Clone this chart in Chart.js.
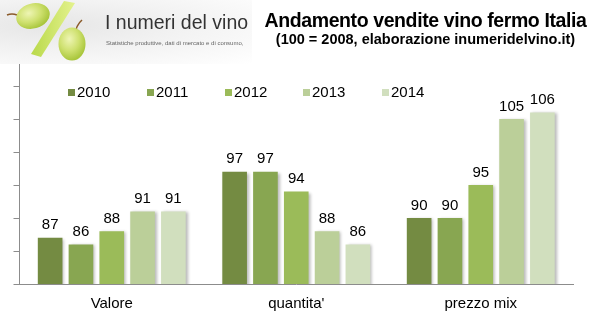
<!DOCTYPE html>
<html>
<head>
<meta charset="utf-8">
<script src="https://cdn.jsdelivr.net/npm/chart.js@4"></script>
<style>
  html, body { margin: 0; padding: 0; background: #fff; }
  #wrap { position: relative; width: 601px; height: 329px; overflow: hidden; font-family: "Liberation Sans", Arial, sans-serif; }
  #myChart { position: absolute; left: 0; top: 0; }
  #logo { position: absolute; left: 0; top: 0; width: 252px; height: 64px; overflow: hidden;
          background: radial-gradient(ellipse at 20% 40%, #e6e6e6 0%, #f2f2f2 45%, #ffffff 100%); }
  #logo svg { position: absolute; left: 0; top: 0; }
  #logoName { position: absolute; left: 105px; top: 11px; font-family: "Liberation Sans", Arial, sans-serif; font-size: 19.5px; color: #333; white-space: nowrap; }
  #logoSub { position: absolute; left: 106px; top: 40px; font-size: 6px; color: #666; white-space: nowrap; }
  #title { position: absolute; left: 250px; width: 351px; top: 9px; text-align: center; font-weight: bold; font-size: 19.5px; color: #000; letter-spacing: -0.4px; }
  #subtitle { position: absolute; left: 250px; width: 351px; top: 31px; text-align: center; font-weight: bold; font-size: 14.5px; color: #000; }
  #legend { position: absolute; top: 84px; left: 0; height: 16px; font-size: 15px; color: #000; }
  .item { position: absolute; top: 0; white-space: nowrap; line-height: 16px; }
  .sw { display: inline-block; width: 7px; height: 7px; margin-right: 2px; vertical-align: 1px; }
</style>
</head>
<body>
<div id="wrap">
  <canvas id="myChart" width="601" height="329"></canvas>

  <div id="logo">
    <svg width="105" height="64" viewBox="0 0 105 64">
      <defs>
        <radialGradient id="grape" cx="40%" cy="35%" r="65%">
          <stop offset="0" stop-color="#eef5b4"/>
          <stop offset="0.55" stop-color="#cfe170"/>
          <stop offset="1" stop-color="#a9c63c"/>
        </radialGradient>
        <linearGradient id="stick" x1="0" y1="0" x2="1" y2="0">
          <stop offset="0" stop-color="#b9d94a"/>
          <stop offset="1" stop-color="#e4f28e"/>
        </linearGradient>
      </defs>
      <path d="M7 15 Q12 13 17 15" stroke="#8a5a2a" stroke-width="1.6" fill="none"/>
      <ellipse cx="33" cy="16" rx="17" ry="12.5" transform="rotate(-15 33 16)" fill="url(#grape)"/>
      <polygon points="64,1 75,3 41,57 31,54" fill="url(#stick)"/>
      <path d="M75 35 Q76 25 82 20" stroke="#8a5a2a" stroke-width="1.6" fill="none"/>
      <ellipse cx="72" cy="44" rx="13.5" ry="16.5" fill="url(#grape)"/>
    </svg>
    <div id="logoName">I numeri del vino</div>
    <div id="logoSub">Statistiche produttive, dati di mercato e di consumo,</div>
  </div>

  <div id="title">Andamento vendite vino fermo Italia</div>
  <div id="subtitle">(100 = 2008, elaborazione inumeridelvino.it)</div>

  <div id="legend"></div>
</div>

<script>
// categories, series and tick values
var categories = ["Valore", "quantita'", "prezzo mix"];
var years = ["2010", "2011", "2012", "2013", "2014"];
var v2010 = [87, 97, 90];
var v2011 = [86, 97, 90];
var v2012 = [88, 94, 95];
var v2013 = [91, 88, 105];
var v2014 = [91, 86, 106];
var yMin = 80;
var yMax = 115;
var yStep = 5;

var colors = ["#748b42", "#88a651", "#9bbb59", "#bbcf99", "#d1dfbe"];
var series = [v2010, v2011, v2012, v2013, v2014];

// legend drawn as html, sitting inside the plot
var legendBox = document.getElementById("legend");
var legendX = [68, 147, 225, 303, 382];
for (var i = 0; i < years.length; i++) {
    var item = document.createElement("div");
    item.className = "item";
    item.style.left = legendX[i] + "px";
    var sw = document.createElement("span");
    sw.className = "sw";
    sw.style.background = colors[i];
    item.appendChild(sw);
    item.appendChild(document.createTextNode(years[i]));
    legendBox.appendChild(item);
}

// soft shadow on the bars
const barShadow = {
    id: 'barShadow',
    beforeDatasetDraw(chart) {
        var ctx = chart.ctx;
        ctx.save();
        ctx.shadowColor = 'rgba(0, 0, 0, 0.28)';
        ctx.shadowBlur = 3;
        ctx.shadowOffsetX = 2;
        ctx.shadowOffsetY = 1;
    },
    afterDatasetDraw(chart) {
        chart.ctx.restore();
    }
};

// value labels above each bar
const valueLabels = {
    id: 'valueLabels',
    afterDatasetsDraw(chart) {
        var ctx = chart.ctx;
        ctx.save();
        ctx.font = '15px "Liberation Sans", Arial, sans-serif';
        ctx.fillStyle = '#000';
        ctx.textAlign = 'center';
        ctx.textBaseline = 'bottom';
        chart.data.datasets.forEach(function(ds, di) {
            var meta = chart.getDatasetMeta(di);
            meta.data.forEach(function(bar, k) {
                ctx.fillText(ds.data[k], bar.x, bar.y - 5);
            });
        });
        ctx.restore();
    }
};

const data = {
    labels: categories,
    datasets: years.map(function(y, i) {
        return {
            label: y,
            data: series[i],
            backgroundColor: colors[i],
            borderWidth: 0,
            barPercentage: 0.8,
            categoryPercentage: 0.835
        };
    })
};

const config = {
    type: 'bar',
    data,
    options: {
        responsive: false,
        animation: false,
        layout: { padding: { left: 13.5, right: 28, top: 53, bottom: 13 } },
        plugins: {
            legend: { display: false },
            tooltip: { enabled: false }
        },
        scales: {
            x: {
                grid: { display: false },
                border: { color: '#8c8c8c', width: 1 },
                ticks: {
                    color: '#000',
                    font: { size: 15, family: '"Liberation Sans", Arial, sans-serif' },
                    padding: 3
                }
            },
            y: {
                min: yMin,
                max: yMax,
                grid: { drawOnChartArea: false, drawTicks: true, tickLength: 6, color: '#8c8c8c' },
                border: { color: '#8c8c8c', width: 1 },
                ticks: { stepSize: yStep, display: false }
            }
        }
    },
    plugins: [barShadow, valueLabels]
};

const myChart = new Chart(document.getElementById('myChart'), config);
</script>
</body>
</html>
